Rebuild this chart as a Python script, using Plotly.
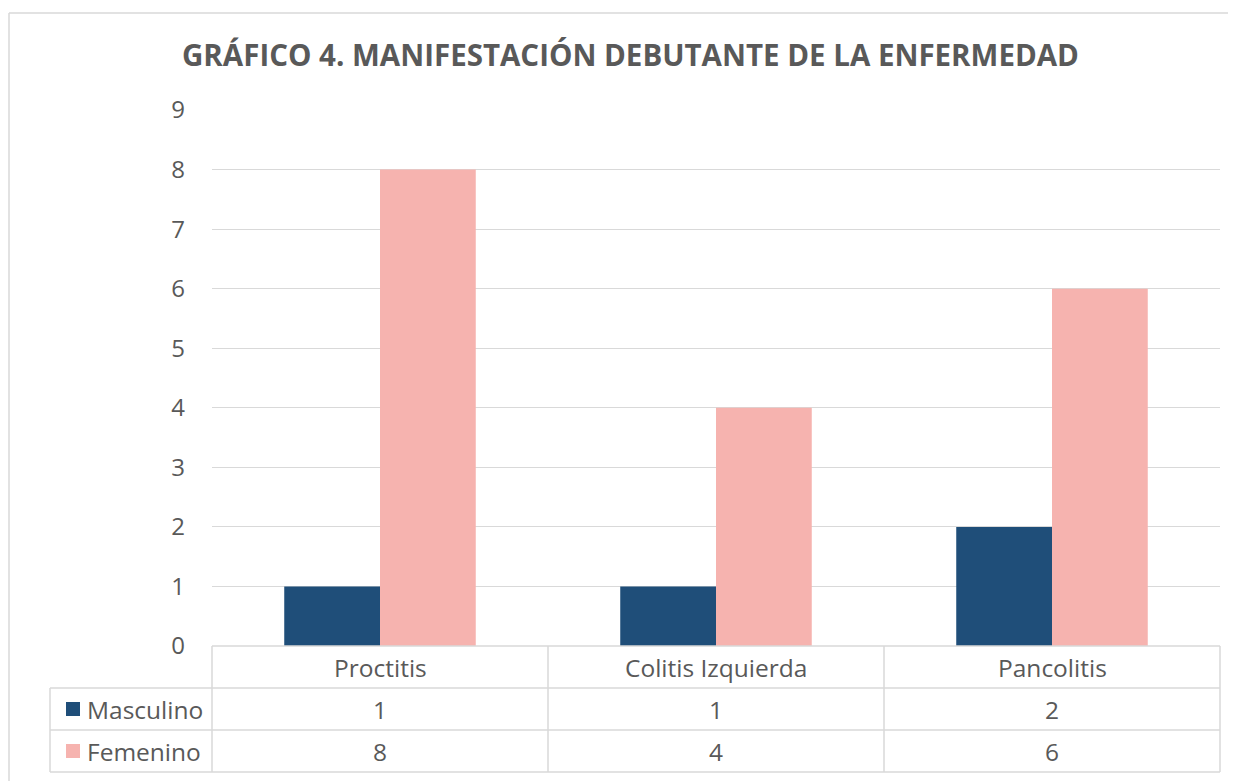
import plotly.graph_objects as go

# ---- data ----
categories = ["Proctitis", "Colitis Izquierda", "Pancolitis"]
series_names = ["Masculino", "Femenino"]
masculino = [1, 1, 2]
femenino = [8, 4, 6]
series_values = [masculino, femenino]
series_colors = ["#1F4E79", "#F6B3AF"]
y_ticks = [0, 1, 2, 3, 4, 5, 6, 7, 8, 9]
title_text = "GRÁFICO 4. MANIFESTACIÓN DEBUTANTE DE LA ENFERMEDAD"

W, H = 1236, 781
OFF = 8  # page body margin offset
L, R, T, B = 212 - OFF, 1220 - OFF, 110 - OFF, 646 - OFF  # plot area in figure pixels
FONT = "Open Sans"
TXT = "#595959"
GRID = "#D9D9D9"


def px(x):
    return (x - OFF - L) / (R - L)


def py(y):
    return (B - (y - OFF)) / (B - T)


fig = go.Figure()
for name, vals, col in zip(series_names, series_values, series_colors):
    fig.add_trace(go.Bar(x=categories, y=vals, name=name, marker_color=col,
                         marker_line_width=0, showlegend=False))

fig.update_layout(
    width=W, height=H,
    margin=dict(l=L, r=W - R, t=T, b=H - B, pad=0),
    paper_bgcolor="white", plot_bgcolor="white",
    barmode="group", bargap=0.43, bargroupgap=0,
    font=dict(family=FONT, color=TXT, size=24),
    xaxis=dict(showticklabels=False, showgrid=False, zeroline=False,
               showline=False, range=[-0.5, 2.5], fixedrange=True),
    yaxis=dict(range=[0, 9], tickvals=y_ticks, showgrid=True, gridcolor=GRID,
               gridwidth=1, zeroline=False, showline=False, ticks="",
               ticklabelstandoff=26, tickfont=dict(size=24, color=TXT)),
)

shapes = []
annotations = []


def hline(x0, x1, y):
    shapes.append(dict(type="line", xref="paper", yref="paper", x0=px(x0), x1=px(x1),
                       y0=py(y), y1=py(y), line=dict(color=GRID, width=1.5)))


def vline(x, y0, y1):
    shapes.append(dict(type="line", xref="paper", yref="paper", x0=px(x), x1=px(x),
                       y0=py(y0), y1=py(y1), line=dict(color=GRID, width=1.5)))


# outer chart border: top and left edges only (reference-image pixels)
hline(OFF + 1, 1236, 13)
vline(OFF + 1, 13, 790)

# title
annotations.append(dict(text="<b>" + title_text + "</b>", xref="paper", yref="paper",
                        x=px(630), y=py(55), xanchor="center", yanchor="middle",
                        showarrow=False, font=dict(size=29.5, color=TXT, family=FONT)))

# data table geometry
row_tops = [646, 688, 730, 772]
col_edges = [212 + i * (1220 - 212) / len(categories) for i in range(len(categories) + 1)]
legend_left = 50

hline(col_edges[0], col_edges[-1], row_tops[0])
for y in row_tops[1:]:
    hline(legend_left, col_edges[-1], y)
for x in col_edges:
    vline(x, row_tops[0], row_tops[-1])
vline(legend_left, row_tops[1], row_tops[-1])

# header row
for i, cat in enumerate(categories):
    cx = (col_edges[i] + col_edges[i + 1]) / 2
    annotations.append(dict(text=cat, xref="paper", yref="paper", x=px(cx),
                            y=py((row_tops[0] + row_tops[1]) / 2), xanchor="center",
                            yanchor="middle", showarrow=False,
                            font=dict(size=24.5, color=TXT, family=FONT)))

# series rows
for r, (name, vals, col) in enumerate(zip(series_names, series_values, series_colors)):
    yc = (row_tops[r + 1] + row_tops[r + 2]) / 2
    shapes.append(dict(type="rect", xref="paper", yref="paper", x0=px(66), x1=px(80),
                       y0=py(yc + 7), y1=py(yc - 7), fillcolor=col, line=dict(width=0)))
    annotations.append(dict(text=name, xref="paper", yref="paper", x=px(85), y=py(yc),
                            xanchor="left", yanchor="middle", showarrow=False,
                            font=dict(size=24.5, color=TXT, family=FONT)))
    for i, v in enumerate(vals):
        cx = (col_edges[i] + col_edges[i + 1]) / 2
        annotations.append(dict(text=str(v), xref="paper", yref="paper", x=px(cx), y=py(yc),
                                xanchor="center", yanchor="middle", showarrow=False,
                                font=dict(size=24.5, color=TXT, family=FONT)))

fig.update_layout(shapes=shapes, annotations=annotations)
fig.write_html("out.html")
